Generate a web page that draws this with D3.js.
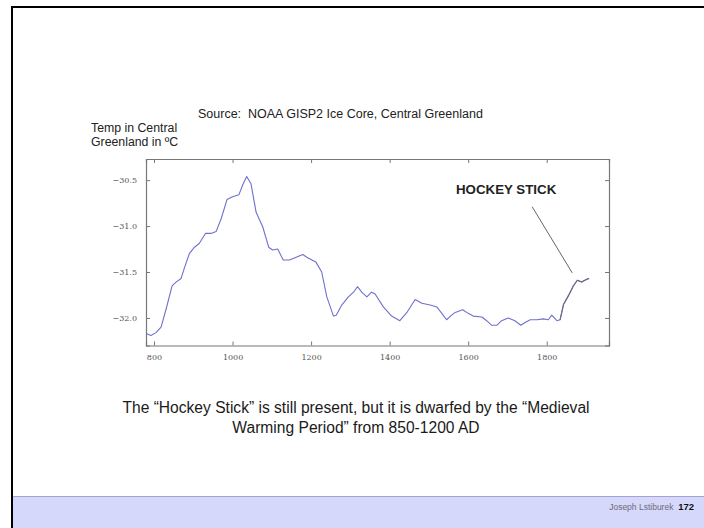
<!DOCTYPE html>
<html>
<head>
<meta charset="utf-8">
<script src="https://cdn.jsdelivr.net/npm/d3@7"></script>
<style>
  html, body { margin: 0; padding: 0; background: #fff; }
  svg { display: block; }
  text { white-space: pre; }
</style>
</head>
<body>
<script>
// ---- data ----
const years = [780, 792, 805, 818, 831, 846, 856, 869, 877, 890, 903, 915, 931, 945, 958, 971, 986, 1000, 1016, 1026, 1036, 1047, 1060, 1077, 1092, 1102, 1115, 1129, 1145, 1162, 1179, 1189, 1212, 1227, 1240, 1257, 1264, 1278, 1295, 1308, 1318, 1329, 1342, 1354, 1363, 1384, 1405, 1426, 1444, 1465, 1482, 1503, 1520, 1533, 1545, 1558, 1567, 1586, 1600, 1613, 1635, 1647, 1660, 1673, 1685, 1702, 1719, 1734, 1745, 1758, 1775, 1791, 1804, 1813, 1826, 1834, 1843, 1855, 1868, 1878, 1889, 1902, 1908];
const temps = [-32.17, -32.19, -32.16, -32.10, -31.90, -31.65, -31.61, -31.57, -31.46, -31.30, -31.23, -31.19, -31.08, -31.08, -31.06, -30.92, -30.71, -30.68, -30.66, -30.55, -30.46, -30.54, -30.85, -31.01, -31.23, -31.26, -31.25, -31.37, -31.37, -31.34, -31.31, -31.34, -31.39, -31.50, -31.77, -31.98, -31.97, -31.86, -31.77, -31.72, -31.66, -31.72, -31.77, -31.72, -31.74, -31.88, -31.98, -32.03, -31.94, -31.80, -31.84, -31.86, -31.88, -31.95, -32.02, -31.97, -31.94, -31.91, -31.95, -31.98, -31.99, -32.03, -32.08, -32.08, -32.03, -32.00, -32.03, -32.08, -32.05, -32.02, -32.02, -32.01, -32.02, -31.97, -32.03, -32.02, -31.85, -31.76, -31.65, -31.59, -31.61, -31.58, -31.57];
const xTicks = [800, 1000, 1200, 1400, 1600, 1800];
const yTicks = [-30.5, -31.0, -31.5, -32.0];
const annotationLabel = "HOCKEY STICK";
const annotationText = [1569, -30.65];
const annotationLine = [[1763, -30.79], [1865, -31.51]];
const hockeyStart = 1834;
const titleText = "Source:  NOAA GISP2 Ice Core, Central Greenland";
const yLabelLines = ["Temp in Central", "Greenland in \u00BAC"];
const captionLines = ["The \u201CHockey Stick\u201D is still present, but it is dwarfed by the \u201CMedieval", "Warming Period\u201D from 850-1200 AD"];
const footerName = "Joseph Lstiburek";
const footerPage = "172";

// ---- layout ----
const W = 704, H = 528;
const plot = { left: 146, top: 159, right: 609, bottom: 345.5 };

const svg = d3.select("body").append("svg").attr("width", W).attr("height", H);

// slide background & border
svg.append("rect").attr("x", 0).attr("y", 0).attr("width", W).attr("height", H).attr("fill", "#fff");
svg.append("rect").attr("x", 13).attr("y", 496).attr("width", W).attr("height", 40).attr("fill", "#d6d8fb");
svg.append("line").attr("x1", 13).attr("x2", W).attr("y1", 496.5).attr("y2", 496.5).attr("stroke", "#a3a6d2").attr("stroke-width", 1);
svg.append("line").attr("x1", 12).attr("x2", 12).attr("y1", 6).attr("y2", H).attr("stroke", "#000").attr("stroke-width", 2);
svg.append("line").attr("x1", 11).attr("x2", W).attr("y1", 7).attr("y2", 7).attr("stroke", "#000").attr("stroke-width", 2);

// scales
const x = d3.scaleLinear().domain([779.6, 1958.6]).range([plot.left, plot.right]);
const y = d3.scaleLinear().domain([-32.30, -30.27]).range([plot.bottom, plot.top]);

// plot area
svg.append("rect").attr("x", plot.left).attr("y", plot.top)
  .attr("width", plot.right - plot.left).attr("height", plot.bottom - plot.top)
  .attr("fill", "#fff");

const fmt = d => (d < 0 ? "\u2212" : "") + Math.abs(d).toFixed(1);

// axes (inward ticks, matplotlib style)
const axB = d3.axisBottom(x).tickValues(xTicks).tickSize(-4).tickPadding(9).tickFormat(d3.format("d"));
const axT = d3.axisTop(x).tickValues(xTicks).tickSize(-4).tickFormat("");
const axL = d3.axisLeft(y).tickValues(yTicks).tickSize(-4).tickPadding(9).tickFormat(fmt);
const axR = d3.axisRight(y).tickValues(yTicks).tickSize(-4).tickFormat("");

function styleAxis(g) {
  g.select(".domain").attr("stroke", "#777").attr("stroke-width", 1.2);
  g.selectAll(".tick line").attr("stroke", "#777");
  g.selectAll("text").attr("fill", "#555").style("font-family", "'DejaVu Serif', serif").style("font-size", "8px");
}
svg.append("g").attr("transform", `translate(0,${plot.bottom})`).call(axB).call(styleAxis);
svg.append("g").attr("transform", `translate(0,${plot.top})`).call(axT).call(styleAxis);
svg.append("g").attr("transform", `translate(${plot.left},0)`).call(axL).call(styleAxis);
svg.append("g").attr("transform", `translate(${plot.right},0)`).call(axR).call(styleAxis);

// data line
const pts = years.map((yr, i) => [yr, temps[i]]);
const line = d3.line().x(d => x(d[0])).y(d => y(d[1]));
svg.append("path").datum(pts).attr("d", line)
  .attr("fill", "none").attr("stroke", "#6f70cc").attr("stroke-width", 1.1).attr("stroke-linejoin", "round");
svg.append("path").datum(pts.filter(d => d[0] >= hockeyStart)).attr("d", line)
  .attr("fill", "none").attr("stroke", "#6b6b80").attr("stroke-width", 1.1).attr("stroke-linejoin", "round");

// annotation
svg.append("line")
  .attr("x1", x(annotationLine[0][0])).attr("y1", y(annotationLine[0][1]))
  .attr("x2", x(annotationLine[1][0])).attr("y2", y(annotationLine[1][1]))
  .attr("stroke", "#666").attr("stroke-width", 1);
svg.append("text").attr("x", x(annotationText[0])).attr("y", y(annotationText[1]))
  .attr("fill", "#222").style("font-family", "'Liberation Sans', Arial, sans-serif")
  .style("font-size", "13.3px").style("font-weight", "bold").text(annotationLabel);

// titles
const sans = "'Liberation Sans', Arial, sans-serif";
svg.append("text").attr("x", 198).attr("y", 118.3).attr("fill", "#222")
  .style("font-family", sans).style("font-size", "12.5px").text(titleText);
svg.selectAll(".ylab").data(yLabelLines).enter().append("text")
  .attr("x", 91).attr("y", (d, i) => 131.5 + i * 14.5).attr("fill", "#222")
  .style("font-family", sans).style("font-size", "12.3px").text(d => d);

// caption
svg.selectAll(".cap").data(captionLines).enter().append("text")
  .attr("x", 356).attr("y", (d, i) => 413 + i * 19.5).attr("text-anchor", "middle").attr("fill", "#1a1a1a")
  .style("font-family", sans).style("font-size", "15.6px").text(d => d);

// footer
const ft = svg.append("text").attr("x", 694).attr("y", 510).attr("text-anchor", "end")
  .style("font-family", sans).style("font-size", "8.5px");
ft.append("tspan").attr("fill", "#6a6a7a").text(footerName + "  ");
ft.append("tspan").attr("fill", "#111").style("font-weight", "bold").style("font-size", "9.5px").text(footerPage);
</script>
</body>
</html>
